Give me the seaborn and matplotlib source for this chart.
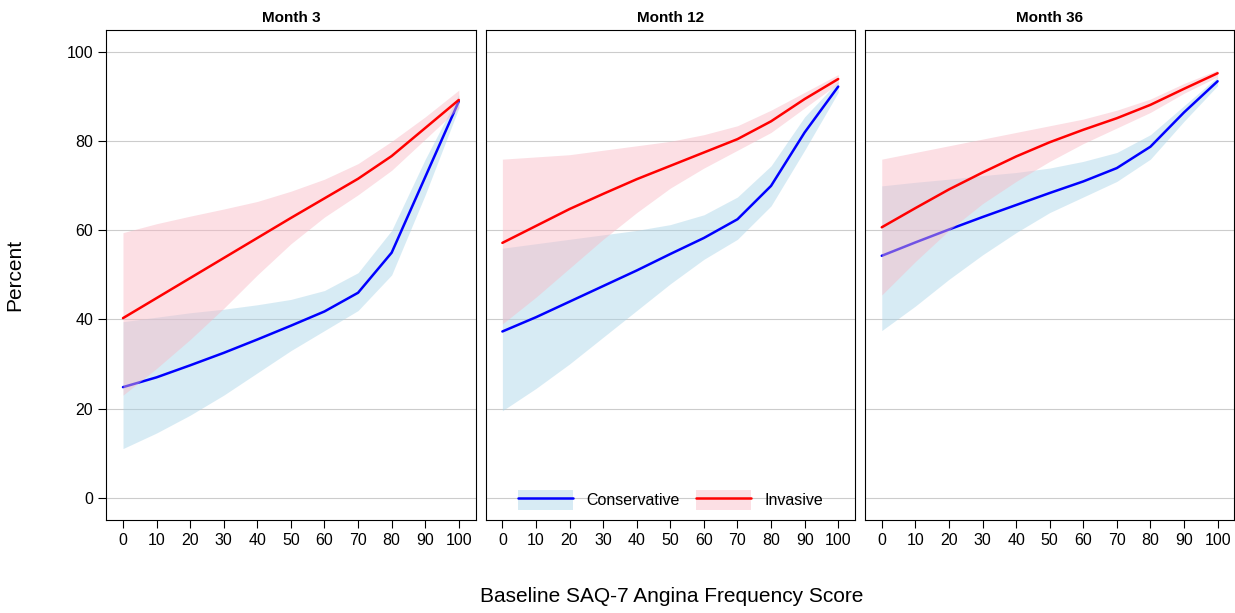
import numpy as np
import pandas as pd
import matplotlib.pyplot as plt
import seaborn as sns
from matplotlib.patches import Patch
from matplotlib.lines import Line2D

x = [0, 10, 20, 30, 40, 50, 60, 70, 80, 90, 100]
months = ["Month 3", "Month 12", "Month 36"]

# conservative: estimate, lower, upper
cons = {
    "Month 3": ([24.8, 27, 29.7, 32.5, 35.5, 38.6, 41.8, 46, 55, 72, 89],
                [11, 14.5, 18.5, 23, 28, 33, 37.5, 42, 50, 68, 87.5],
                [39.5, 40.5, 41.5, 42.3, 43.3, 44.5, 46.5, 50.5, 60, 76, 90.5]),
    "Month 12": ([37.3, 40.5, 44, 47.5, 51, 54.7, 58.3, 62.5, 70, 82, 92.3],
                 [19.5, 24.5, 30, 36, 42, 48, 53.5, 58, 65.5, 78, 91],
                 [56, 57, 58, 59, 60, 61.3, 63.5, 67.5, 74.5, 85.5, 93.5]),
    "Month 36": ([54.3, 57.3, 60.2, 63, 65.7, 68.4, 71, 74, 78.8, 86.5, 93.5],
                 [37.5, 43, 49, 54.5, 59.5, 64, 67.5, 71, 76, 84.5, 92.5],
                 [70, 70.8, 71.5, 72.3, 73, 74, 75.5, 77.5, 81.5, 88, 94.5]),
}
inv = {
    "Month 3": ([40.3, 44.8, 49.3, 53.8, 58.3, 62.8, 67.2, 71.6, 76.7, 83, 89.3],
                [23, 29, 35.5, 42.5, 50, 57, 63, 68, 73.5, 80.5, 87.5],
                [59.5, 61.5, 63.2, 64.8, 66.5, 68.8, 71.5, 75, 80, 85.5, 91.5]),
    "Month 12": ([57.2, 61, 64.8, 68.2, 71.5, 74.5, 77.5, 80.5, 84.5, 89.5, 94],
                 [39, 45, 51.5, 58, 64, 69.5, 74, 78, 82, 87.5, 93],
                 [76, 76.5, 77, 78, 79, 80, 81.5, 83.5, 87, 91, 95]),
    "Month 36": ([60.7, 65, 69.2, 73, 76.6, 79.8, 82.6, 85.2, 88.2, 91.8, 95.3],
                 [45.5, 53, 60, 66, 71, 75.5, 79.5, 83, 86.5, 90.8, 94.5],
                 [76, 77.5, 79, 80.5, 82, 83.5, 85, 87, 89.5, 93, 96]),
}

sns.set_theme(style="ticks")
plt.rcParams['font.family'] = ['Liberation Sans', 'DejaVu Sans']
plt.rcParams['text.color'] = 'black'
plt.rcParams['axes.labelcolor'] = 'black'
plt.rcParams['xtick.color'] = 'black'
plt.rcParams['ytick.color'] = 'black'

fig, axes = plt.subplots(1, 3, figsize=(12.35, 6.13), dpi=100, sharey=True)
fig.subplots_adjust(left=0.086, right=0.9995, top=0.951, bottom=0.152, wspace=0.027)

band_c, band_i = "#a8d4e8", "#f9b8c4"
for ax, m in zip(axes, months):
    for g in [0, 20, 40, 60, 80, 100]:
        ax.axhline(g, color="#cccccc", lw=0.8, zorder=0)
    est, lo, hi = cons[m]
    ax.fill_between(x, lo, hi, color=band_c, alpha=0.45, lw=0, zorder=1)
    sns.lineplot(x=x, y=est, ax=ax, color="blue", lw=1.8, zorder=2)
    est, lo, hi = inv[m]
    ax.fill_between(x, lo, hi, color=band_i, alpha=0.45, lw=0, zorder=3)
    sns.lineplot(x=x, y=est, ax=ax, color="red", lw=1.8, zorder=4)
    ax.set_xlim(-5, 105)
    ax.set_ylim(-5, 105)
    ax.set_xticks(x)
    ax.set_yticks([0, 20, 40, 60, 80, 100])
    ax.set_title(m, fontsize=11, fontweight="bold", pad=6, color="black")
    for s in ax.spines.values():
        s.set_visible(True)
        s.set_color("black")
        s.set_linewidth(0.8)
    ax.tick_params(axis="both", direction="out", length=6, width=0.8,
                   color="black", labelcolor="black", labelsize=11.5,
                   bottom=True, left=(ax is axes[0]))
    ax.set_xlabel("")

axes[0].set_ylabel("Percent", fontsize=15, labelpad=30)
fig.text(0.544, 0.018, "Baseline SAQ-7 Angina Frequency Score", ha="center", fontsize=15)

handles = [(Patch(color=band_c, alpha=0.45, lw=0), Line2D([], [], color="blue", lw=1.8)),
           (Patch(color=band_i, alpha=0.45, lw=0), Line2D([], [], color="red", lw=1.8))]
axes[1].legend(handles, ["Conservative", "Invasive"], loc="lower center", ncol=2,
               frameon=False, fontsize=11.5, handlelength=3.5, handleheight=1.6,
               columnspacing=1.0, bbox_to_anchor=(0.5, -0.01))

fig.savefig("out.png", dpi=100)
